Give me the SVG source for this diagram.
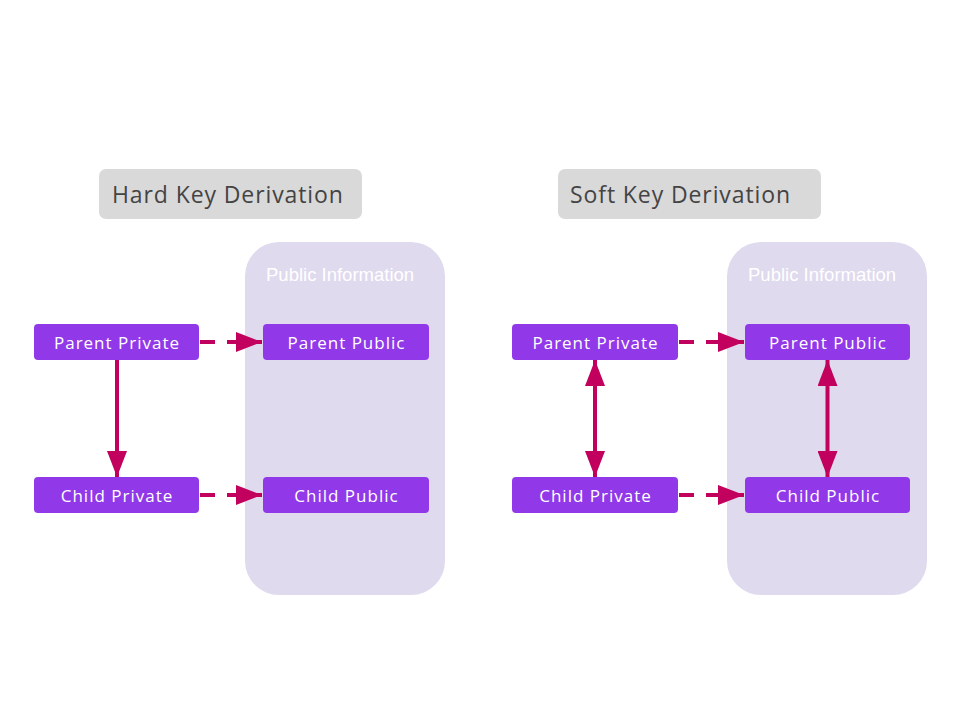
<svg xmlns="http://www.w3.org/2000/svg" width="960" height="720" viewBox="0 0 960 720">
<style>
.title{fill:#d9d9d9}
.ttext{font-family:"Open Sans",sans-serif;font-size:23px;letter-spacing:0.9px;fill:#444444}
.pub{fill:#dfdaee}
.ptext{font-family:"Liberation Sans",Arial,sans-serif;font-size:18.5px;fill:#ffffff}
.node{fill:#9139e8}
.ntext{font-family:"Open Sans",sans-serif;font-size:17px;letter-spacing:1px;fill:#ffffff;text-anchor:middle}
.dash{stroke:#c2005d;stroke-width:4;fill:none;stroke-dasharray:15 12}
.solid{stroke:#c2005d;stroke-width:4;fill:none}
</style>
<defs>
<marker id="ah" markerUnits="userSpaceOnUse" markerWidth="26" markerHeight="20" refX="26" refY="10" orient="auto-start-reverse" viewBox="0 0 26 20">
<path d="M0,0 L26,10 L0,20 Z" fill="#c2005d"/>
</marker>
</defs>
<rect width="960" height="720" fill="#ffffff"/>
<g id="hard-title"><rect class="title" x="99" y="169" width="263" height="50" rx="7"/><text class="ttext" x="112" y="203">Hard Key Derivation</text></g>
<g id="soft-title"><rect class="title" x="558" y="169" width="263" height="50" rx="7"/><text class="ttext" x="570" y="203">Soft Key Derivation</text></g>
<g id="hard-public-info"><rect class="pub" x="245" y="242" width="200" height="353" rx="34"/><text class="ptext" x="266" y="281">Public Information</text></g>
<g id="soft-public-info"><rect class="pub" x="727" y="242" width="200" height="353" rx="34"/><text class="ptext" x="748" y="281">Public Information</text></g>
<g id="hard-parent-private"><rect class="node" x="34" y="324" width="165" height="36" rx="4"/><text class="ntext" x="117" y="349">Parent Private</text></g>
<g id="hard-parent-public"><rect class="node" x="263" y="324" width="166" height="36" rx="4"/><text class="ntext" x="346.5" y="349">Parent Public</text></g>
<g id="hard-child-private"><rect class="node" x="34" y="477" width="165" height="36" rx="4"/><text class="ntext" x="117" y="502">Child Private</text></g>
<g id="hard-child-public"><rect class="node" x="263" y="477" width="166" height="36" rx="4"/><text class="ntext" x="346.5" y="502">Child Public</text></g>
<g id="soft-parent-private"><rect class="node" x="512" y="324" width="166" height="36" rx="4"/><text class="ntext" x="595.5" y="349">Parent Private</text></g>
<g id="soft-parent-public"><rect class="node" x="745" y="324" width="165" height="36" rx="4"/><text class="ntext" x="828" y="349">Parent Public</text></g>
<g id="soft-child-private"><rect class="node" x="512" y="477" width="166" height="36" rx="4"/><text class="ntext" x="595.5" y="502">Child Private</text></g>
<g id="soft-child-public"><rect class="node" x="745" y="477" width="165" height="36" rx="4"/><text class="ntext" x="828" y="502">Child Public</text></g>
<g id="connectors">
<path class="dash" d="M200,342 H262" marker-end="url(#ah)"/>
<path class="dash" d="M200,495 H262" marker-end="url(#ah)"/>
<path class="solid" d="M117,360 V477" marker-end="url(#ah)"/>
<path class="dash" d="M679,342 H744" marker-end="url(#ah)"/>
<path class="dash" d="M679,495 H744" marker-end="url(#ah)"/>
<path class="solid" d="M595,360 V477" marker-start="url(#ah)" marker-end="url(#ah)"/>
<path class="solid" d="M827.5,360 V477" marker-start="url(#ah)" marker-end="url(#ah)"/>
</g>
</svg>
